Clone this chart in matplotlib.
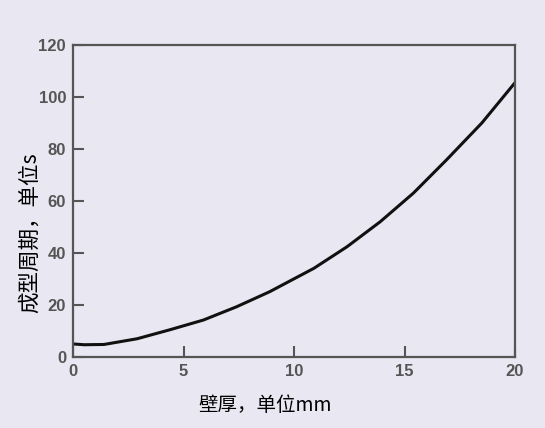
import numpy as np
import matplotlib.pyplot as plt

plt.rcParams['font.family'] = ['Liberation Sans', 'Noto Sans CJK SC', 'DejaVu Sans']

# data
wall_mm = [0, 0.5, 1.4, 2.9, 4.4, 5.9, 7.4, 8.9, 10.9, 12.4, 13.9, 15.4, 16.9, 18.5, 20]
cycle_s = [5.0, 4.7, 4.8, 7.0, 10.5, 14.2, 19.3, 25.1, 34.1, 42.4, 52.0, 63.0, 75.8, 90.0, 105.5]

xticks = [0, 5, 10, 15, 20]
yticks = [0, 20, 40, 60, 80, 100, 120]

bg = '#e9e8f2'
fig = plt.figure(figsize=(5.45, 4.28), dpi=100, facecolor=bg)
ax = fig.add_axes([0.134, 0.166, 0.811, 0.729], facecolor=bg)

ax.plot(wall_mm, cycle_s, color='#111111', lw=2.2, solid_capstyle='round',
        solid_joinstyle='round')

ax.set_xlim(0, 20)
ax.set_ylim(0, 120)
ax.set_xticks(xticks)
ax.set_yticks(yticks)
for s in ax.spines.values():
    s.set_color('#555555')
    s.set_linewidth(1.6)
ax.tick_params(direction='in', length=8, width=1.5, color='#555555',
               labelcolor='#555555', labelsize=12, pad=5)
for lab in ax.get_xticklabels() + ax.get_yticklabels():
    lab.set_fontweight('bold')

cjk = ['Noto Sans CJK SC', 'DejaVu Sans']
ax.set_xlabel('壁厚，单位mm', fontsize=14, family=cjk, fontweight='medium', va='center')
ax.set_ylabel('成型周期，单位s', fontsize=15.5, family=cjk, fontweight='medium', va='center')
ax.xaxis.set_label_coords(0.434, -0.154)
ax.yaxis.set_label_coords(-0.097, 0.397)

fig.savefig('out.png', dpi=100, facecolor=bg)
